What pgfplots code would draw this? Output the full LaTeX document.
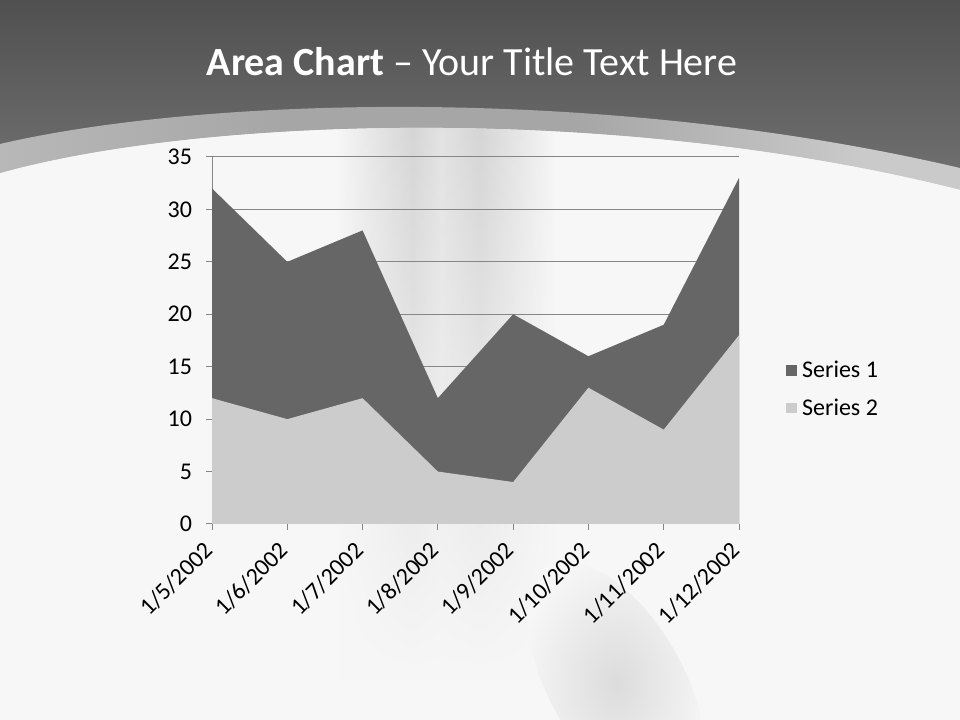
\documentclass[border=0pt]{standalone}
\usepackage{pgfplots}
\pgfplotsset{compat=1.18}
\usetikzlibrary{fadings}
\usepackage{fontspec}
\setmainfont{Carlito}

\definecolor{hdtop}{HTML}{505050}
\definecolor{hdbot}{HTML}{767676}
\definecolor{bandl}{HTML}{B8B8B8}
\definecolor{bandm}{HTML}{A6A6A6}
\definecolor{bandr}{HTML}{CACACA}
\definecolor{bgw}{HTML}{F7F7F7}
\definecolor{streak}{HTML}{D4D4D4}
\definecolor{blob}{HTML}{DCDCDC}
\definecolor{sone}{HTML}{666666}
\definecolor{stwo}{HTML}{CCCCCC}
\definecolor{gridc}{HTML}{868686}

% path bbox maps to 25bp..75bp
\pgfdeclarehorizontalshading{streakshade}{100bp}{color(0bp)=(bgw); color(42.5bp)=(bgw);
  color(46.5bp)=(streak); color(48bp)=(streak!60!bgw); color(50bp)=(streak); color(54bp)=(bgw); color(100bp)=(bgw)}
\pgfdeclarehorizontalshading{bandshade}{100bp}{color(0bp)=(bandl); color(25bp)=(bandl);
  color(40bp)=(bandm); color(55bp)=(bandm); color(70bp)=(bandr); color(100bp)=(bandr)}

\begin{document}
\begin{tikzpicture}
% background
\shade[top color=hdtop, bottom color=hdbot] (0pt,380pt) rectangle (720pt,540pt);
\shade[shading=bandshade] (0pt,0pt) -- (0pt,432pt) .. controls (150pt,467pt) and (450pt,477pt) .. (720pt,414pt) -- (720pt,0pt) -- cycle;
\fill[bgw] (0pt,0pt) -- (0pt,410pt) .. controls (150pt,452pt) and (460pt,463pt) .. (720pt,397.5pt) -- (720pt,0pt) -- cycle;
\begin{scope}
\clip (0pt,0pt) -- (0pt,410pt) .. controls (150pt,452pt) and (460pt,463pt) .. (720pt,397.5pt) -- (720pt,0pt) -- cycle;
\shade[shading=streakshade, path fading=south] (0pt,30pt) rectangle (720pt,460pt);
\shade[inner color=blob, outer color=bgw, rotate around={30:(462pt,28pt)}] (462pt,28pt) ellipse (50pt and 100pt);
\end{scope}
\node[text=white, font=\fontsize{30}{36}\selectfont] at (354pt,493.5pt) {\textbf{Area Chart} – Your Title Text Here};

\begin{axis}[
  at={(159pt,147pt)}, anchor=south west,
  scale only axis, width=395.25pt, height=275.25pt,
  xmin=0, xmax=7, ymin=0, ymax=35,
  xtick={0,...,7},
  xticklabels={1/5/2002,1/6/2002,1/7/2002,1/8/2002,1/9/2002,1/10/2002,1/11/2002,1/12/2002},
  ytick={0,5,...,35},
  axis x line=bottom, axis y line=left,
  axis line style={-, draw=gridc, line width=0.75pt},
  ymajorgrids, grid style={draw=gridc, line width=0.75pt},
  tick align=outside, major tick length=4.5pt,
  tick style={draw=gridc, line width=0.75pt},
  ticklabel style={font=\fontsize{18}{21}\selectfont, text=black},
  /pgf/number format/assume math mode=true,
  xticklabel style={rotate=45, anchor=east},
  xticklabel shift=10pt,
  yticklabel shift=7pt,
  legend style={at={(1.089,0.367)}, anchor=west, draw=none, fill=none,
    font=\fontsize{18}{21}\selectfont, row sep=6pt, inner sep=0pt,
    nodes={inner sep=4pt}},
  legend cell align=left,
  legend image code/.code={\fill[#1] (0pt,-4pt) rectangle (8pt,4pt);},
]
\addplot[fill=sone, draw=none] coordinates {(0,32) (1,25) (2,28) (3,12) (4,20) (5,16) (6,19) (7,33)} \closedcycle;
\addlegendentry{Series 1}
\addplot[fill=stwo, draw=none] coordinates {(0,12) (1,10) (2,12) (3,5) (4,4) (5,13) (6,9) (7,18)} \closedcycle;
\addlegendentry{Series 2}
\end{axis}
\pgfresetboundingbox
\path[use as bounding box] (0pt,0pt) rectangle (720pt,540pt);
\end{tikzpicture}
\end{document}
